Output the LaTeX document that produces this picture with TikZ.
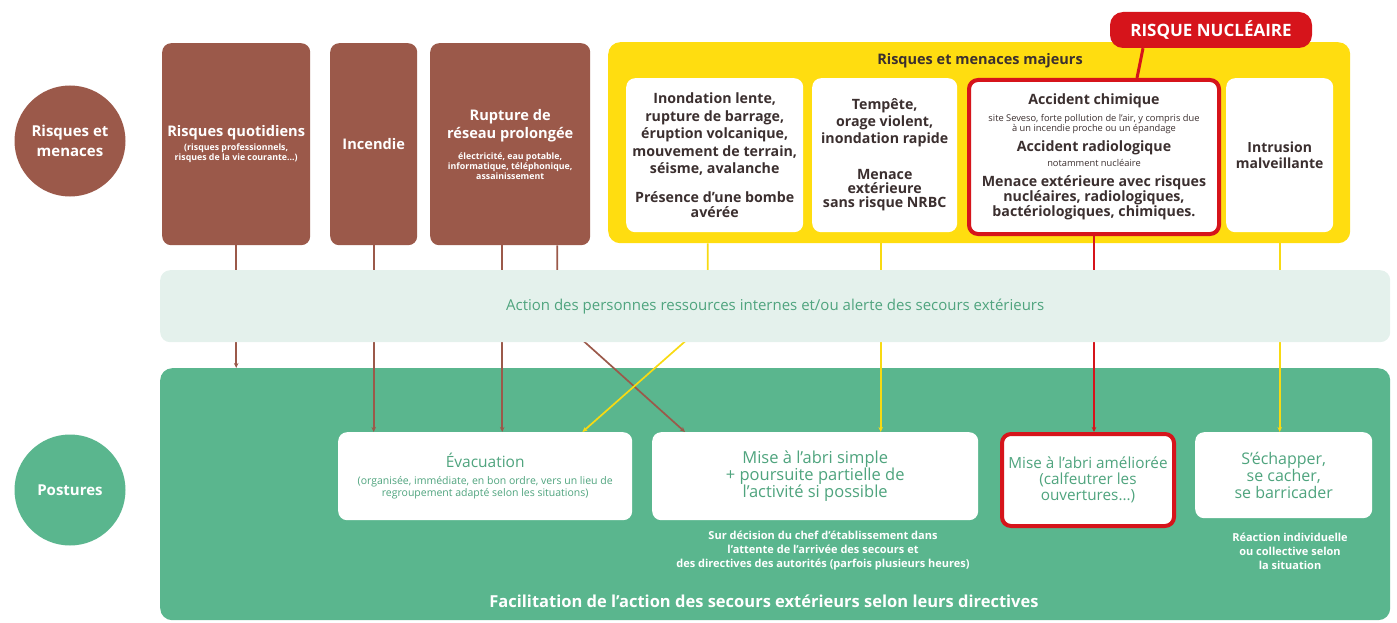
\documentclass[tikz,border=0pt]{standalone}
\usepackage{fontspec}
\setmainfont{Open Sans}
\usetikzlibrary{arrows.meta}
\definecolor{brun}{HTML}{9B594A}
\definecolor{jaune}{HTML}{FFDD10}
\definecolor{jauneligne}{HTML}{F8DA12}
\definecolor{rouge}{HTML}{D6141B}
\definecolor{menthe}{HTML}{E4F1EC}
\definecolor{vert}{HTML}{5AB68E}
\definecolor{vertT}{HTML}{4FA47E}
\definecolor{sombre}{HTML}{3B2F2F}
\pgfdeclarelayer{bg}
\pgfsetlayers{bg,main}
\newcommand\fsz[2]{\fontsize{#1}{#2}\selectfont}
\newcommand\sousb{\fsz{8.8}{10}\bfseries}
\newcommand\sousr{\fsz{9.3}{10}\mdseries}
\newcommand\souse{\fsz{10.5}{12}}

\begin{document}
\begin{tikzpicture}[x=1pt,y=-1pt,
  brunbox/.style={rectangle, rounded corners=9pt, fill=brun, text=white, anchor=north west, align=center, inner sep=3pt},
  blancbox/.style={rectangle, rounded corners=9pt, fill=white, text=sombre, anchor=north west, align=center, inner sep=3pt},
  posturebox/.style={blancbox, text=vertT, font=\fsz{16.5}{17}},
  rondel/.style={circle, minimum size=111pt, inner sep=0pt, text=white, align=center, font=\fsz{15}{20}\bfseries},
  petit/.style={text=white, align=center, font=\fsz{11}{14}\bfseries},
  fleche/.style={-{Stealth[length=5pt,width=4.5pt]}, line width=1.7pt},
]
\useasboundingbox (0,0) rectangle (1397,623);

% LEFT: row titles
\node[rondel, fill=brun] (risques) at (70,141) {Risques et\\menaces};
\node[rondel, fill=vert] (postures) at (70,490) {Postures};

% TOP: brown boxes
\node[brunbox, minimum width=148pt, minimum height=202pt, font=\fsz{14.6}{14}\bfseries] (quotid) at (162,43)
  {Risques quotidiens\\[0pt]\sousb(risques professionnels,\\[-4pt]\sousb risques de la vie courante...)};
\node[brunbox, minimum width=87pt, minimum height=202pt, font=\fsz{14.6}{15}\bfseries] (incendie) at (330,43) {Incendie};
\node[brunbox, minimum width=160pt, minimum height=202pt, font=\fsz{14.6}{18}\bfseries] (rupture) at (430,43)
  {Rupture de\\réseau prolongée\\[3pt]\sousb électricité, eau potable,\\[-8pt]\sousb informatique, téléphonique,\\[-8pt]\sousb assainissement};

% TOP: major risks (yellow frame)
\begin{pgfonlayer}{bg}
  \node[fill=jaune, rounded corners=12pt, anchor=north west, minimum width=742pt, minimum height=201pt] (majeurs) at (608,42) {};
\end{pgfonlayer}
\node[text=sombre, font=\fsz{14.5}{16}\bfseries] (majtitre) at (980,61) {Risques et menaces majeurs};
\node[blancbox, minimum width=177pt, minimum height=154pt, font=\fsz{14.2}{17.5}\bfseries] (inond) at (626,78)
  {Inondation lente,\\rupture de barrage,\\éruption volcanique,\\mouvement de terrain,\\séisme, avalanche\\[11pt]
   Présence d'une bombe\\[-2pt]avérée};
\node[blancbox, minimum width=145pt, minimum height=154pt, font=\fsz{14.2}{17}\bfseries] (tempete) at (812,78)
  {Tempête,\\orage violent,\\inondation rapide\\[19pt]
   Menace\\[-3pt]extérieure\\[-3pt]sans risque NRBC};
\node[blancbox, draw=rouge, line width=4pt, minimum width=250pt, minimum height=154pt, font=\fsz{14.2}{14}\bfseries] (chimique) at (967,78)
  {Accident chimique\\[3pt]
   \sousr site Seveso, forte pollution de l'air, y compris due\\[-4pt]
   \sousr à un incendie proche ou un épandage\\[6pt]
   Accident radiologique\\[1pt]
   \sousr notamment nucléaire\\[6pt]
   Menace extérieure avec risques\\[-0.5pt]nucléaires, radiologiques,\\[-0.5pt]bactériologiques, chimiques.};
\node[blancbox, minimum width=107pt, minimum height=154pt, font=\fsz{14}{16}\bfseries] (intrusion) at (1226,78)
  {Intrusion\\malveillante};
\node[fill=rouge, rounded corners=13pt, minimum width=202pt, minimum height=36pt, text=white, font=\fsz{17}{18}\bfseries] (nucleaire) at (1211,30) {RISQUE NUCLÉAIRE};
\draw[rouge, line width=3pt] ([xshift=-68pt]nucleaire.south) -- ([xshift=43pt]chimique.north);

% MIDDLE: alert band
\node[fill=menthe, rounded corners=10pt, anchor=north west, minimum width=1230pt, minimum height=72pt, text=vertT, font=\fsz{15}{17}] (action) at (160,270)
  {Action des personnes ressources internes et/ou alerte des secours extérieurs};

% BOTTOM: postures
\begin{pgfonlayer}{bg}
  \node[fill=vert, rounded corners=12pt, anchor=north west, minimum width=1230pt, minimum height=252pt] (panneau) at (160,368) {};
\end{pgfonlayer}
\node[posturebox, minimum width=294pt, minimum height=88pt, font=\fsz{15.5}{14}] (evac) at (338,432)
  {Évacuation\\[3pt]
   \souse(organisée, immédiate, en bon ordre, vers un lieu de\\[-2pt]
   \souse regroupement adapté selon les situations)};
\node[posturebox, minimum width=326pt, minimum height=88pt] (abri) at (652,432)
  {Mise à l'abri simple\\+ poursuite partielle de\\l'activité si possible};
\node[posturebox, draw=rouge, line width=4pt, minimum width=172pt, minimum height=92pt, font=\fsz{15.3}{16}] (ameliore) at (1000,432)
  {Mise à l'abri améliorée\\(calfeutrer les\\ouvertures...)};
\node[posturebox, minimum width=177pt, minimum height=86pt, font=\fsz{16}{17}] (echap) at (1195,432)
  {S'échapper,\\se cacher,\\se barricader};
\node[petit] (decision) at (823,551)
  {Sur décision du chef d'établissement dans\\l'attente de l'arrivée des secours et\\des directives des autorités (parfois plusieurs heures)};
\node[petit] (reaction) at (1290,551) {Réaction individuelle\\ou collective selon\\la situation};
\node[text=white, font=\fsz{16.5}{18}\bfseries] (facilit) at (764,601)
  {Facilitation de l'action des secours extérieurs selon leurs directives};

% Connectors (under the alert band)
\begin{pgfonlayer}{bg}
  \draw[fleche, brun] (quotid.south) -- (quotid.south |- panneau.north);
  \draw[fleche, brun] (incendie.south) -- (incendie.south |- evac.north);
  \draw[fleche, brun] ([xshift=-8pt]rupture.south) -- ([xshift=-8pt]rupture.south |- evac.north);
  \draw[fleche, brun] ([xshift=47pt]rupture.south) -- ++(0,72) -- ([xshift=33pt]abri.north west);
  \draw[fleche, jauneligne] ([xshift=-7pt]inond.south |- majeurs.south) -- ++(0,78) -- ([xshift=-50pt]evac.north east);
  \draw[fleche, jauneligne] ([xshift=-4pt]tempete.south |- majeurs.south) -- ([xshift=-4pt]tempete.south |- abri.north);
  \draw[fleche, rouge, line width=2.6pt] (chimique.south) -- (chimique.south |- ameliore.north);
  \draw[fleche, jauneligne] (intrusion.south |- majeurs.south) -- (intrusion.south |- echap.north);
\end{pgfonlayer}
\end{tikzpicture}
\end{document}
